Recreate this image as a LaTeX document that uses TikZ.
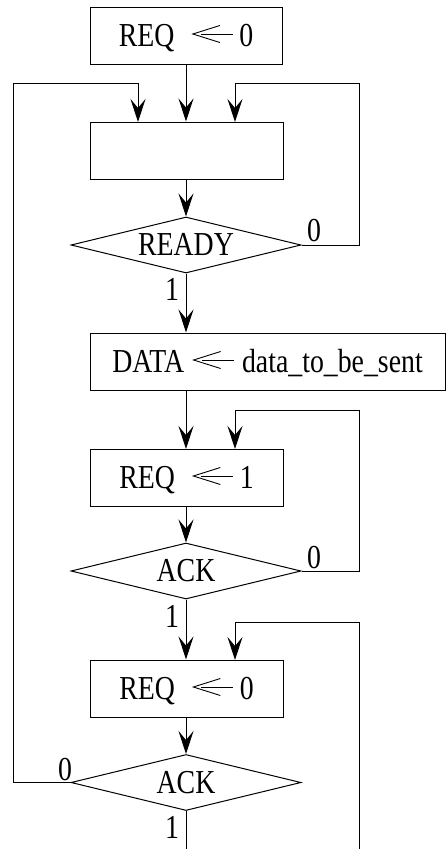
\documentclass[tikz,border=0pt]{standalone}
\usepackage{fontspec}
\setmainfont{Liberation Serif}[FakeStretch=0.83]
\usetikzlibrary{arrows.meta,shapes.geometric}
\newcommand\asgn{\tikz[baseline=0pt,x=1pt,y=1pt,line width=0.9pt]{\draw (27,20.5)--(0,12)--(27,3.5); \draw (8,12)--(40,12);}}
\tikzset{
  txt/.style={font=\fontsize{33.5}{40}\selectfont, text height=21pt, text depth=0pt},
  procbox/.style={draw, line width=1pt, inner sep=0pt, minimum height=57pt, txt},
  decbox/.style={draw, line width=1pt, shape=diamond, aspect=4.1, inner sep=0pt, minimum width=230pt, minimum height=56pt, txt},
  flow/.style={line width=1pt, -{Stealth[length=23pt,width=15pt,inset=9pt]}},
  lbl/.style={inner sep=0pt, txt},
}
\begin{document}
\begin{tikzpicture}[x=1pt,y=-1pt]
\useasboundingbox (0,0) rectangle (446,849);
\node[procbox, minimum width=192pt] (b1) at (186,35.5) {REQ\hspace{18pt}\asgn\hspace{6pt}0};
\node[procbox, minimum width=193pt] (b2) at (186.5,150.5) {};
\node[decbox] (d1) at (186,245) {READY};
\node[procbox, minimum width=355pt] (b3) at (267.5,361.5) {DATA\hspace{9pt}\asgn\hspace{8pt}data\_to\_be\_sent};
\node[procbox, minimum width=193pt] (b4) at (186.5,477.5) {REQ\hspace{18pt}\asgn\hspace{6pt}1};
\node[decbox] (d2) at (186,571) {ACK};
\node[procbox, minimum width=193pt] (b5) at (186.5,688.5) {REQ\hspace{18pt}\asgn\hspace{6pt}0};
\node[decbox] (d3) at (186,782.5) {ACK};

\node[lbl] (l0a) at (314,231) {0};
\node[lbl] (l1a) at (172,290) {1};
\node[lbl] (l0b) at (314,558) {0};
\node[lbl] (l1b) at (172,617) {1};
\node[lbl] (l0c) at (65,770) {0};
\node[lbl] (l1c) at (172,828) {1};

\coordinate (endR) at (359,849);
\coordinate (endC) at (186,849);

\draw[flow] (b1.south) -- (b1.south |- b2.north);
\draw[flow] (d3.west) -- (13,782.5) -- (13,83) -- (138,83) -- (138,122);
\draw[flow] (d1.east) -- (359,245) -- (359,83) -- (235,83) -- (235,122);
\draw[flow] (b2.south -| d1.north) -- (d1.north);
\draw[flow] (d1.south) -- (d1.south |- b3.north);
\draw[flow] (186,390) -- (186,449);
\draw[flow] (d2.east) -- (359,571) -- (359,410) -- (235,410) -- (235,449);
\draw[flow] (b4.south -| d2.north) -- (d2.north);
\draw[flow] (d2.south) -- (d2.south |- b5.north);
\draw[flow] (endR) -- (359,622) -- (235,622) -- (235,660);
\draw[flow] (b5.south -| d3.north) -- (d3.north);
\draw[line width=1pt] (d3.south) -- (endC);
\end{tikzpicture}
\end{document}
